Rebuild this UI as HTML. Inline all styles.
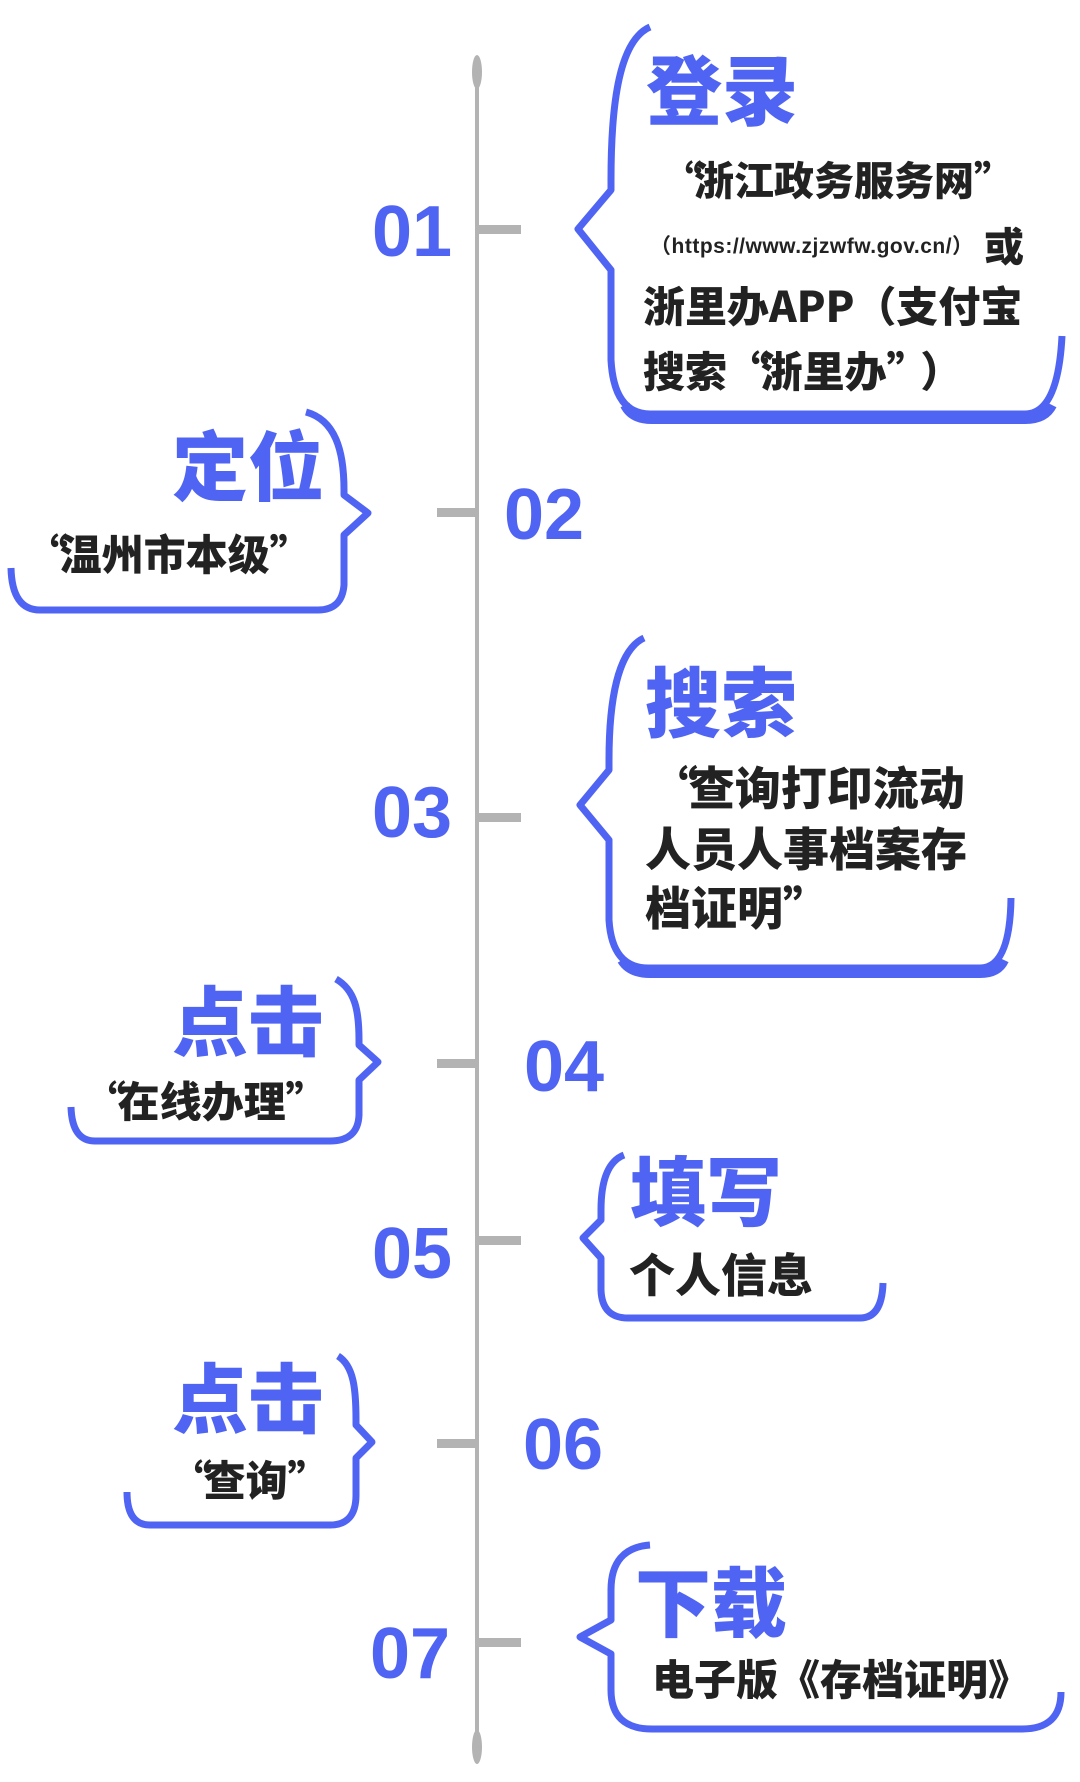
<!DOCTYPE html>
<html><head><meta charset="utf-8"><style>
body{margin:0;width:1080px;height:1782px;background:#fff;position:relative;overflow:hidden;font-family:"Liberation Sans","Noto Sans CJK SC",sans-serif}
.t{position:absolute;white-space:nowrap;line-height:1}
.b{color:#4f64f3;font-weight:900;font-family:"Noto Sans CJK SC",sans-serif}
.k{color:#222;font-weight:900;font-family:"Noto Sans CJK SC",sans-serif}
.n{font-family:"Liberation Sans",sans-serif;font-weight:700;font-size:72px;color:#4f64f3}
.h{font-size:76px}
.ql{display:inline-block;width:0.8em;text-align:right}
.qr{display:inline-block;width:0.8em;text-align:left}
</style></head><body>
<svg width="1080" height="1782" style="position:absolute;left:0;top:0">
<g fill="#b3b3b3">
<rect x="475" y="70" width="4" height="1680"/>
<ellipse cx="477" cy="72" rx="5" ry="17"/>
<ellipse cx="477" cy="1747" rx="5" ry="17"/>
<rect x="479" y="225" width="42" height="9"/>
<rect x="437" y="508" width="40" height="9"/>
<rect x="479" y="813" width="42" height="9"/>
<rect x="437" y="1059" width="40" height="9"/>
<rect x="479" y="1236" width="42" height="9"/>
<rect x="437" y="1439" width="40" height="9"/>
<rect x="479" y="1638" width="42" height="9"/>
</g>
<g fill="none" stroke="#4f64f3" stroke-width="7" stroke-linejoin="round">
<path d="M650 27 C620 40 611 100 611 180 L611 190 L578 229 L611 270 L611 360 Q614 414 650 414 L1025 414 Q1058 414 1062 336"/>
<path d="M625 405 Q632 419 652 419 L1025 419 Q1045 419 1052 405" stroke-width="10"/>
<path d="M306 412 C335 420 344 450 344 490 L344 495 L368 513 L344 535 L344 585 Q342 610 318 610 L40 610 Q12 610 11 568"/>
<path d="M644 638 C618 650 609 700 609 760 L609 770 L580 805 L609 840 L609 920 Q612 968 648 968 L980 968 Q1010 968 1011 898"/>
<path d="M622 960 Q630 973 650 973 L980 973 Q998 973 1004 960" stroke-width="10"/>
<path d="M336 979 C355 990 359 1010 359 1040 L359 1045 L378 1062 L359 1080 L359 1115 Q358 1141 330 1141 L95 1141 Q72 1141 71 1107"/>
<path d="M624 1155 C606 1162 601 1185 601 1210 L601 1220 L583 1238 L601 1258 L601 1290 Q602 1318 628 1318 L860 1318 Q882 1318 883 1283"/>
<path d="M338 1356 C354 1366 356 1390 356 1420 L356 1425 L372 1442 L356 1458 L356 1495 Q356 1525 330 1525 L150 1525 Q127 1525 127 1492"/>
<path d="M650 1545 Q611 1548 611 1590 L611 1620 L580 1637 L611 1654 L611 1690 Q611 1729 652 1729 L1022 1729 Q1061 1729 1061 1692"/>
</g>
</svg>

<div class="t n" style="left:372px;top:196px">01</div>
<div class="t n" style="left:504px;top:479px">02</div>
<div class="t n" style="left:372px;top:777px">03</div>
<div class="t n" style="left:524px;top:1031px">04</div>
<div class="t n" style="left:372px;top:1218px">05</div>
<div class="t n" style="left:523px;top:1409px">06</div>
<div class="t n" style="left:370px;top:1618px">07</div>

<div class="t b h" style="left:646px;top:48px">登录</div>
<div class="t k" style="left:662px;top:158px;font-size:40px"><span class="ql">“</span>浙江政务服务网<span class="qr">”</span></div>
<div class="t" style="left:650px;top:236px;font-size:21px;font-weight:700;color:#222;font-family:'Liberation Sans','Noto Sans CJK SC',sans-serif;letter-spacing:0.5px">（https://www.zjzwfw.gov.cn/）</div>
<div class="t k" style="left:984px;top:224px;font-size:40px">或</div>
<div class="t k" style="left:643px;top:284px;font-size:42px">浙里办APP（支付宝</div>
<div class="t k" style="left:643px;top:349px;font-size:42px">搜索<span class="ql">“</span>浙里办<span class="qr">”</span>）</div>

<div class="t b h" style="left:172px;top:424px">定位</div>
<div class="t k" style="left:26px;top:532px;font-size:42px"><span class="ql">“</span>温州市本级<span class="qr">”</span></div>

<div class="t b h" style="left:645px;top:660px">搜索</div>
<div class="t k" style="left:652px;top:763px;font-size:46px"><span class="ql">“</span>查询打印流动</div>
<div class="t k" style="left:645px;top:824px;font-size:46px">人员人事档案存</div>
<div class="t k" style="left:645px;top:883px;font-size:46px">档证明<span class="qr">”</span></div>

<div class="t b h" style="left:172px;top:979px">点击</div>
<div class="t k" style="left:84px;top:1079px;font-size:42px"><span class="ql">“</span>在线办理<span class="qr">”</span></div>

<div class="t b h" style="left:630px;top:1149px">填写</div>
<div class="t k" style="left:629px;top:1250px;font-size:46px">个人信息</div>

<div class="t b h" style="left:172px;top:1356px">点击</div>
<div class="t k" style="left:170px;top:1458px;font-size:42px"><span class="ql">“</span>查询<span class="qr">”</span></div>

<div class="t b h" style="left:635px;top:1560px">下载</div>
<div class="t k" style="left:652px;top:1657px;font-size:42px">电子版《存档证明》</div>
</body></html>
